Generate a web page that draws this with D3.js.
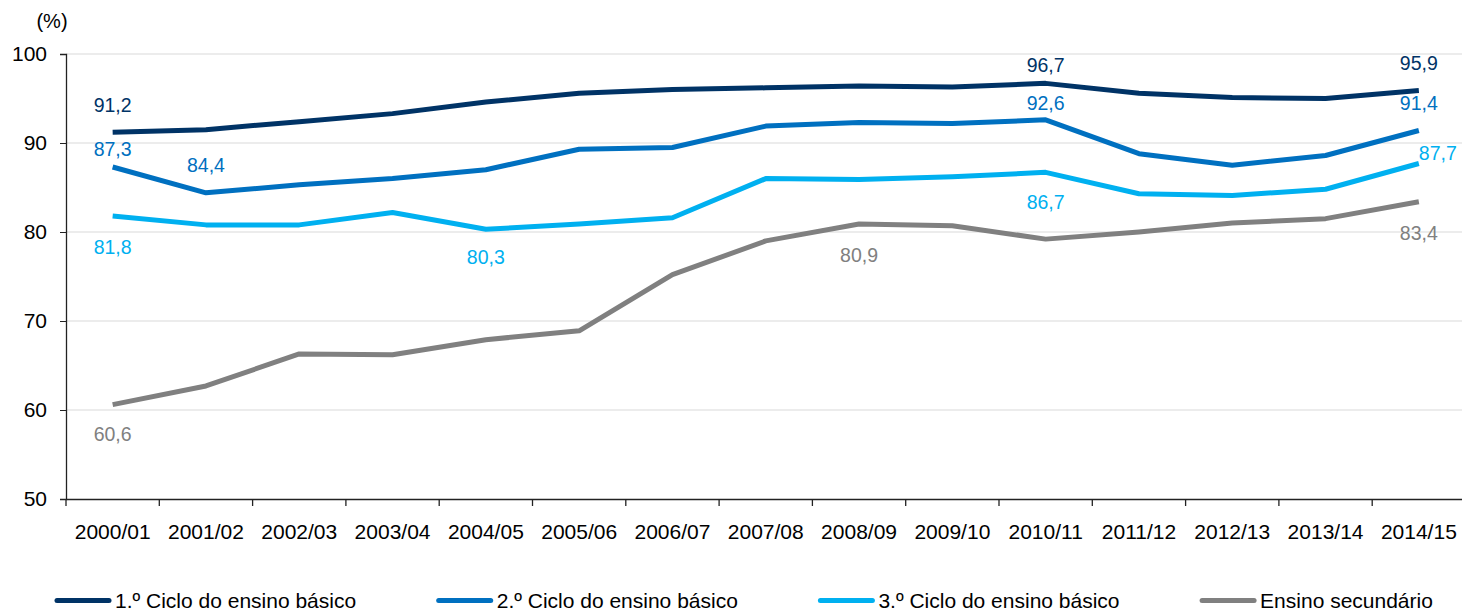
<!DOCTYPE html>
<html>
<head>
<meta charset="utf-8">
<script src="https://cdn.jsdelivr.net/npm/d3@7"></script>
<style>
  body { margin: 0; background: #fff; }
  svg { display: block; font-family: "Liberation Sans", Arial, sans-serif; }
</style>
</head>
<body>
<div id="chart"></div>
<script>
// school years on the x axis
const years = ["2000/01", "2001/02", "2002/03", "2003/04", "2004/05", "2005/06", "2006/07",
  "2007/08", "2008/09", "2009/10", "2010/11", "2011/12", "2012/13", "2013/14", "2014/15"];

const seriesNames = ["1.º Ciclo do ensino básico", "2.º Ciclo do ensino básico",
  "3.º Ciclo do ensino básico", "Ensino secundário"];

// values (%)
const ciclo1 = [91.2, 91.5, 92.4, 93.3, 94.6, 95.6, 96.0, 96.2, 96.4, 96.3, 96.7, 95.6, 95.1, 95.0, 95.9];
const ciclo2 = [87.3, 84.4, 85.3, 86.0, 87.0, 89.3, 89.5, 91.9, 92.3, 92.2, 92.6, 88.8, 87.5, 88.6, 91.4];
const ciclo3 = [81.8, 80.8, 80.8, 82.2, 80.3, 80.9, 81.6, 86.0, 85.9, 86.2, 86.7, 84.3, 84.1, 84.8, 87.7];
const secundario = [60.6, 62.7, 66.3, 66.2, 67.9, 68.9, 75.2, 79.0, 80.9, 80.7, 79.2, 80.0, 81.0, 81.5, 83.4];

const yTicks = [50, 60, 70, 80, 90, 100];

const colors = ["#003366", "#0070c0", "#00b0f0", "#808080"];
const allSeries = [ciclo1, ciclo2, ciclo3, secundario];

// which points get a value label, and where the label sits
const labels = [
  { s: 0, i: 0, dx: 0, dy: -27 }, { s: 0, i: 10, dx: 0, dy: -18 }, { s: 0, i: 14, dx: 0, dy: -27 },
  { s: 1, i: 0, dx: 0, dy: -18 }, { s: 1, i: 1, dx: 0, dy: -28 }, { s: 1, i: 10, dx: 0, dy: -17 }, { s: 1, i: 14, dx: 0, dy: -27 },
  { s: 2, i: 0, dx: 0, dy: 31 }, { s: 2, i: 4, dx: 0, dy: 28 }, { s: 2, i: 10, dx: 0, dy: 30 }, { s: 2, i: 14, dx: 19, dy: -10 },
  { s: 3, i: 0, dx: 0, dy: 30 }, { s: 3, i: 8, dx: 0, dy: 31 }, { s: 3, i: 14, dx: 0, dy: 31 }
];

const W = 1462, H = 612;
const margin = { left: 66, top: 54, bottom: 113 };
const plotRight = 1465.5;

const svg = d3.select("#chart").append("svg")
  .attr("width", W).attr("height", H);

const x = d3.scaleBand().domain(years).range([margin.left, plotRight]).padding(0);
const y = d3.scaleLinear().domain([50, 100]).range([H - margin.bottom, margin.top]);

// gridlines
svg.append("g").selectAll("line").data(yTicks.filter(d => d > 50)).enter().append("line")
  .attr("x1", margin.left).attr("x2", W)
  .attr("y1", d => y(d)).attr("y2", d => y(d))
  .attr("stroke", "#d9d9d9").attr("stroke-width", 1.2);

// y axis
const yAxis = svg.append("g").attr("transform", `translate(${margin.left},0)`)
  .call(d3.axisLeft(y).tickValues(yTicks).tickSize(6).tickPadding(13).tickFormat(d3.format("d")));
yAxis.select(".domain").attr("stroke", "#222").attr("stroke-width", 1.3);
yAxis.selectAll(".tick line").attr("stroke", "#222");
yAxis.selectAll("text").attr("font-size", 21).attr("fill", "#000")
  .attr("font-family", "Liberation Sans, Arial, sans-serif");

// x axis, ticks between categories
const xAxis = svg.append("g").attr("transform", `translate(0,${y(50)})`)
  .call(d3.axisBottom(x).tickSize(0).tickPadding(25));
xAxis.select(".domain").attr("stroke", "#222").attr("stroke-width", 1.3);
xAxis.selectAll("text").attr("font-size", 21).attr("fill", "#000")
  .attr("font-family", "Liberation Sans, Arial, sans-serif");
svg.append("g").selectAll("line").data(years).enter().append("line")
  .attr("x1", d => x(d)).attr("x2", d => x(d))
  .attr("y1", y(50)).attr("y2", y(50) + 7)
  .attr("stroke", "#222").attr("stroke-width", 1.3);

svg.append("text").attr("x", 52).attr("y", 28).attr("text-anchor", "middle")
  .attr("font-size", 20).attr("fill", "#000").text("(%)");

// lines
const line = d3.line().x((d, i) => x(years[i]) + x.bandwidth() / 2).y(d => y(d));
svg.append("g").selectAll("path").data(allSeries.slice().reverse()).enter().append("path")
  .attr("d", d => line(d))
  .attr("fill", "none")
  .attr("stroke", (d, i) => colors[3 - i])
  .attr("stroke-width", 5)
  .attr("stroke-linejoin", "round");

// value labels
svg.append("g").selectAll("text").data(labels).enter().append("text")
  .attr("x", d => x(years[d.i]) + x.bandwidth() / 2 + d.dx)
  .attr("y", d => y(allSeries[d.s][d.i]) + d.dy)
  .attr("dy", "0.35em")
  .attr("text-anchor", "middle")
  .attr("font-size", 19.5)
  .attr("fill", d => colors[d.s])
  .text(d => d3.format(".1f")(allSeries[d.s][d.i]).replace(".", ","));

// legend
const legend = svg.append("g").selectAll("g").data(seriesNames).enter().append("g")
  .attr("transform", (d, i) => `translate(${57 + i * 381.7},600.5)`);
legend.append("line").attr("x1", 0).attr("x2", 52).attr("y1", 0).attr("y2", 0)
  .attr("stroke", (d, i) => colors[i]).attr("stroke-width", 5).attr("stroke-linecap", "round");
legend.append("text").attr("x", 58).attr("y", 7).attr("font-size", 21).attr("fill", "#000")
  .text(d => d);
</script>
</body>
</html>
